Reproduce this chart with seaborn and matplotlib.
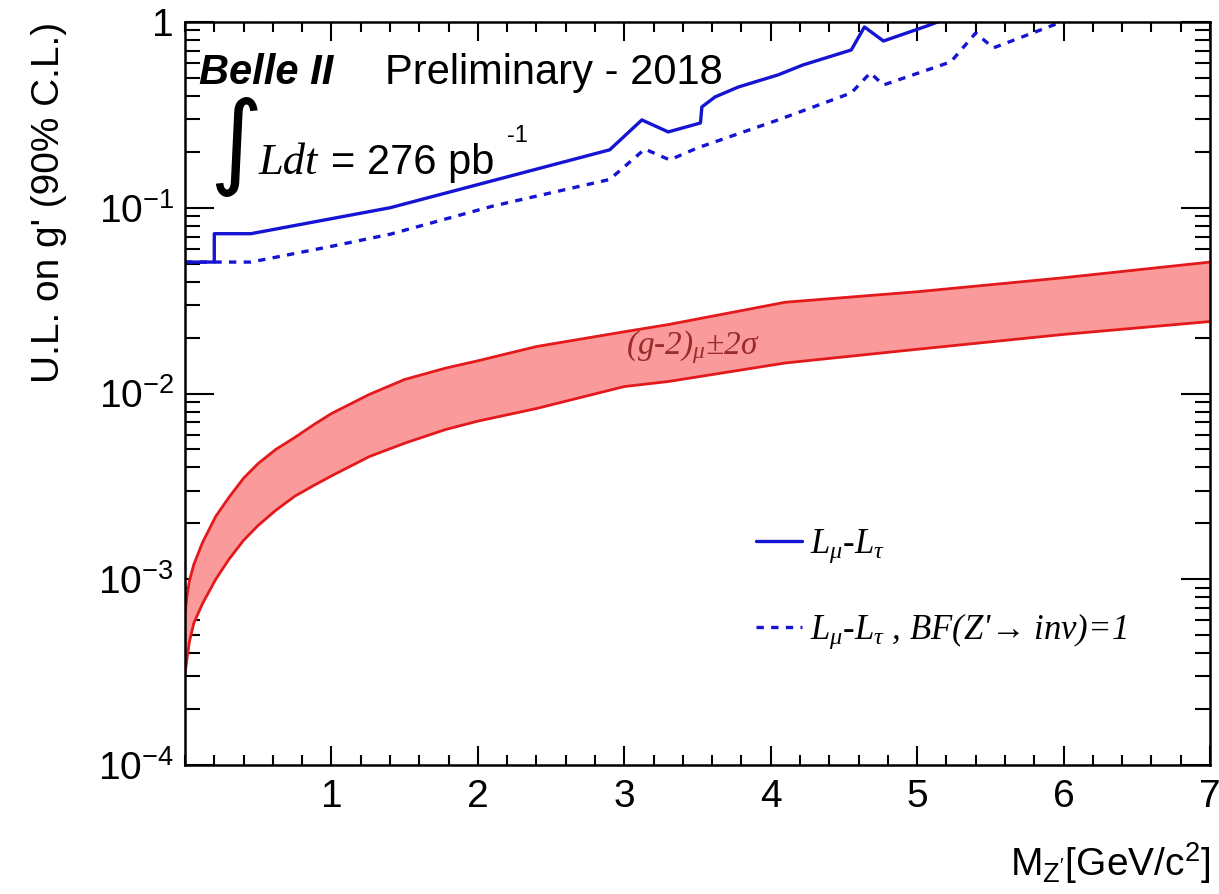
import numpy as np
import pandas as pd
import matplotlib
matplotlib.use("Agg")
import matplotlib.pyplot as plt
from matplotlib.ticker import FixedLocator, MultipleLocator, FuncFormatter, LogLocator, NullFormatter
import seaborn as sns

# Belle II Z' -> invisible upper limits
mass_solid = [0.0, 0.2, 0.2, 0.45, 1.4, 2.9, 3.12, 3.3, 3.52, 3.53, 3.62, 3.78,
              4.05, 4.22, 4.55, 4.64, 4.77, 5.08, 5.4]
gp_solid = [0.051, 0.051, 0.0725, 0.0725, 0.1, 0.205, 0.297, 0.256, 0.286, 0.349,
            0.395, 0.447, 0.519, 0.587, 0.707, 0.94, 0.79, 0.96, 1.2]

mass_dash = [0.0, 0.45, 1.0, 1.4, 2.1, 2.9, 3.14, 3.31, 3.5, 4.05, 4.55, 4.68,
             4.77, 5.23, 5.40, 5.52, 5.97, 6.3]
gp_dash = [0.051, 0.051, 0.062, 0.072, 0.102, 0.142, 0.207, 0.181, 0.21, 0.297,
           0.415, 0.532, 0.458, 0.61, 0.873, 0.725, 0.99, 1.2]

# (g-2)_mu +- 2 sigma band
band_mass = [0.0, 0.015, 0.03, 0.06, 0.12, 0.21, 0.3, 0.4, 0.5, 0.62, 0.75, 0.88,
             1.0, 1.26, 1.5, 1.78, 2.0, 2.4, 3.0, 3.3, 4.1, 5.0, 6.0, 7.0]
band_hi = [6.6e-4, 8.3e-4, 9.8e-4, 1.2e-3, 1.58e-3, 2.18e-3, 2.76e-3, 3.5e-3,
           4.2e-3, 5.0e-3, 5.8e-3, 6.8e-3, 7.8e-3, 9.9e-3, 0.0119, 0.0137, 0.015,
           0.0179, 0.0215, 0.0235, 0.031, 0.0353, 0.042, 0.051]
band_lo = [3.1e-4, 3.8e-4, 4.6e-4, 5.8e-4, 7.4e-4, 1.0e-3, 1.28e-3, 1.62e-3,
           1.95e-3, 2.35e-3, 2.8e-3, 3.2e-3, 3.6e-3, 4.58e-3, 5.4e-3, 6.4e-3, 7.1e-3,
           8.3e-3, 0.0109, 0.0116, 0.0146, 0.0173, 0.0208, 0.0244]

sns.set_theme(style="ticks")
plt.rcParams['font.family'] = ['Liberation Sans', 'DejaVu Sans']
plt.rcParams['mathtext.fontset'] = 'custom'
plt.rcParams['mathtext.rm'] = 'Liberation Sans'
plt.rcParams['mathtext.it'] = 'Liberation Serif:italic'
plt.rcParams['mathtext.bf'] = 'Liberation Sans:bold'
plt.rcParams['text.color'] = 'black'
plt.rcParams['axes.labelcolor'] = 'black'
plt.rcParams['xtick.color'] = 'black'
plt.rcParams['ytick.color'] = 'black'

blue = "#1414d2"
red = "#e3191c"
pink = "#fb9a9a"

fig = plt.figure(figsize=(12.19, 8.94), dpi=100)
ax = fig.add_axes([185 / 1219, 1 - 765 / 894, 1025 / 1219, 743 / 894])

ax.fill_between(band_mass, band_lo, band_hi, color=pink, linewidth=0)
sns.lineplot(x=band_mass, y=band_hi, color=red, lw=2, ax=ax, estimator=None, sort=False)
sns.lineplot(x=band_mass, y=band_lo, color=red, lw=2, ax=ax, estimator=None, sort=False)

sns.lineplot(x=mass_solid, y=gp_solid, color=blue, lw=2.4, ax=ax,
             estimator=None, sort=False, label=r"$L_{\mu}$-$L_{\tau}$")
sns.lineplot(x=mass_dash, y=gp_dash, color=blue, lw=2.4, ax=ax,
             estimator=None, sort=False, linestyle=(0, (2.2, 2.2)),
             label=r"$L_{\mu}$-$L_{\tau}$ , BF(Z'→ inv)=1")

ax.set_yscale('log')
ax.set_xlim(0, 7)
ax.set_ylim(1e-4, 1)

ax.xaxis.set_major_locator(FixedLocator([1, 2, 3, 4, 5, 6, 7]))
ax.xaxis.set_minor_locator(MultipleLocator(0.2))
ax.yaxis.set_major_locator(LogLocator(base=10, numticks=10))
ax.yaxis.set_minor_locator(LogLocator(base=10, subs=np.arange(2, 10), numticks=20))
ax.yaxis.set_minor_formatter(NullFormatter())


def ylab(v, pos):
    e = int(round(np.log10(v)))
    if e == 0:
        return "1"
    return r"$\mathregular{10^{%d}}$" % e


ax.yaxis.set_major_formatter(FuncFormatter(ylab))
ax.tick_params(which='both', direction='in', top=True, right=True, labelsize=28,
               color='black', width=1.5)
ax.tick_params(axis='x', which='major', length=14, pad=10)
ax.tick_params(axis='x', which='minor', length=7)
ax.tick_params(axis='y', which='major', length=21, pad=8)
ax.tick_params(axis='y', which='minor', length=11)
for s in ax.spines.values():
    s.set_linewidth(1.8)
    s.set_color('black')

ax.set_xlabel(r"$\mathregular{M_{Z'}[GeV/c^{2}]}$", fontsize=28, loc='right', labelpad=18)
ax.set_ylabel("U.L. on g' (90% C.L.)", fontsize=28, loc='top', labelpad=22)

# annotations
ax.text(0.014, 0.932, "Belle II", transform=ax.transAxes, fontsize=30,
        fontweight='bold', fontstyle='italic', va='center', ha='left')
ax.text(0.195, 0.932, "Preliminary - 2018", transform=ax.transAxes, fontsize=30,
        va='center', ha='left')
ax.text(0.024, 0.832, "∫", transform=ax.transAxes, fontsize=74,
        family=['DejaVu Sans'], va='center', ha='left')
ax.text(0.072, 0.81, "Ldt", transform=ax.transAxes, fontsize=32,
        family=['Liberation Serif'], fontstyle='italic', va='center', ha='left')
ax.text(0.142, 0.81, "= 276 pb", transform=ax.transAxes, fontsize=30,
        va='center', ha='left')
ax.text(0.314, 0.846, "-1", transform=ax.transAxes, fontsize=17,
        va='center', ha='left')
ax.text(0.43, 0.563, r"(g-2)$_{\mu}$±2σ", transform=ax.transAxes,
        fontsize=24, family=['Liberation Serif', 'DejaVu Serif'], fontstyle='italic',
        color='#9a2b2b', va='center', ha='left')

leg = ax.legend(loc='upper left', bbox_to_anchor=(0.527, 0.362), frameon=False,
                prop={'family': ['Liberation Serif', 'DejaVu Serif'], 'style': 'italic', 'size': 25},
                handlelength=1.3, handletextpad=0.25, labelspacing=1.35)

fig.savefig("out.png", dpi=100)
